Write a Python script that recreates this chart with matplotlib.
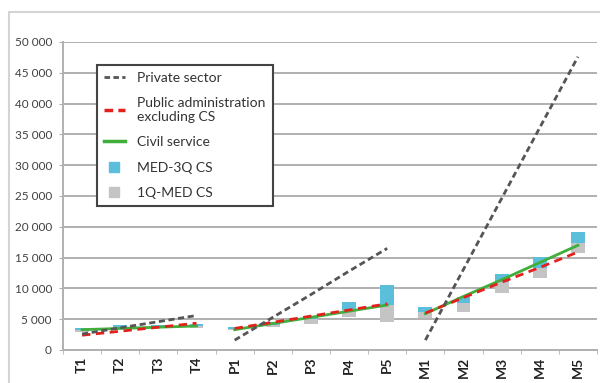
import matplotlib
matplotlib.use("Agg")
import matplotlib.pyplot as plt
from matplotlib.lines import Line2D
from matplotlib.patches import Rectangle
from matplotlib.ticker import FuncFormatter, FixedLocator

plt.rcParams['font.family'] = ['Lato', 'DejaVu Sans']

categories = ['T1', 'T2', 'T3', 'T4', 'P1', 'P2', 'P3', 'P4', 'P5',
              'M1', 'M2', 'M3', 'M4', 'M5']

# category index ranges of the three groups
groups = [(0, 4), (4, 9), (9, 14)]

# trend lines per group
private_sector = [2600, 3600, 4600, 5600,
                  1600, 5300, 9000, 12800, 16500,
                  1600, 13100, 24600, 36100, 47600]
public_admin = [2400, 3050, 3700, 4350,
                3500, 4500, 5500, 6500, 7500,
                6000, 8500, 11000, 13400, 15900]
civil_service = [3300, 3500, 3700, 3900,
                 3300, 4300, 5300, 6300, 7300,
                 5900, 8700, 11400, 14200, 17000]

# quartiles of civil service pay
q1 = [3000, 3400, 3500, 3600, 3200, 3800, 4300, 5400, 4600,
      5200, 6200, 9300, 11700, 15700]
med = [3250, 3700, 3800, 3900, 3450, 4100, 5000, 6500, 7300,
       6200, 7600, 11000, 13300, 17400]
q3 = [3500, 4000, 4100, 4200, 3700, 4500, 5600, 7800, 10500,
      7000, 8600, 12300, 15100, 19200]

c_private = '#555555'
c_public = '#e3211c'
c_civil = '#3fae3a'
c_upper = '#5bbfdc'
c_lower = '#c4c4c4'

fig = plt.figure(figsize=(6, 3.83), dpi=100)
ax = fig.add_axes([63/600, 1 - 350/383, (597-63)/600, (350-42)/383])

x = list(range(len(categories)))
w = 0.36
ax.bar(x, [m - a for m, a in zip(med, q1)], bottom=q1, width=w,
       color=c_lower, zorder=2)
ax.bar(x, [b - m for b, m in zip(q3, med)], bottom=med, width=w,
       color=c_upper, zorder=2)

for a, b in groups:
    xs = x[a:b]
    ax.plot(xs, private_sector[a:b], color=c_private, lw=2,
            ls=(0, (2.2, 1.3)), zorder=4)
    ax.plot(xs, civil_service[a:b], color=c_civil, lw=2, zorder=3)
    ax.plot(xs, public_admin[a:b], color=c_public, lw=2,
            ls=(0, (3, 2)), zorder=3)

ax.set_xlim(-0.5, len(categories) - 0.5)
ax.set_ylim(0, 50000)
ax.set_yticks(range(0, 50001, 5000))
ax.yaxis.set_major_formatter(FuncFormatter(lambda v, p: f"{int(v):,}".replace(",", " ")))
ax.grid(axis='y', color='#b0b0b0', lw=1.4, zorder=0)
ax.set_axisbelow(True)

ax.set_xticks(x)
ax.set_xticklabels(categories, rotation=90, fontweight='bold', fontsize=10,
                   color='#222222')
ax.xaxis.set_minor_locator(FixedLocator([i + 0.5 for i in range(-1, len(categories))]))
ax.tick_params(axis='x', which='major', length=0, pad=5)
ax.tick_params(axis='x', which='minor', length=3, color='#b0b0b0')
ax.tick_params(axis='y', length=3, color='#b0b0b0', labelsize=8.5,
               labelcolor='#404040', pad=5)

for s in ['top', 'right']:
    ax.spines[s].set_visible(False)
for s in ['left', 'bottom']:
    ax.spines[s].set_color('#b0b0b0')
    ax.spines[s].set_linewidth(1.4)

handles = [
    Line2D([], [], color=c_private, lw=2, ls=(0, (2, 1.2))),
    Line2D([], [], color=c_public, lw=2.5, ls=(0, (2.5, 1.5))),
    Line2D([], [], color=c_civil, lw=2.5),
    Line2D([], [], color=c_upper, marker='s', ls='none', markersize=7),
    Line2D([], [], color=c_lower, marker='s', ls='none', markersize=7),
]
labels = ['Private sector', 'Public administration\nexcluding CS',
          'Civil service', 'MED-3Q CS', '1Q-MED CS']
leg = ax.legend(handles, labels, loc='upper left',
                bbox_to_anchor=((97-63)/534, (350-65)/308),
                borderaxespad=0, fancybox=False, fontsize=10,
                handlelength=1.5, handletextpad=0.9, labelspacing=0.95,
                borderpad=0.5, labelcolor='#333333', framealpha=1)
leg.get_frame().set_edgecolor('#444444')
leg.get_frame().set_linewidth(1.5)

# outer border around the chart
fig.patches.append(Rectangle((9/600, -0.1), 1, (383-12)/383 + 0.1,
                             transform=fig.transFigure, fill=False,
                             edgecolor='#d4d4d4', lw=1.5))

fig.savefig('out.png', dpi=100)
